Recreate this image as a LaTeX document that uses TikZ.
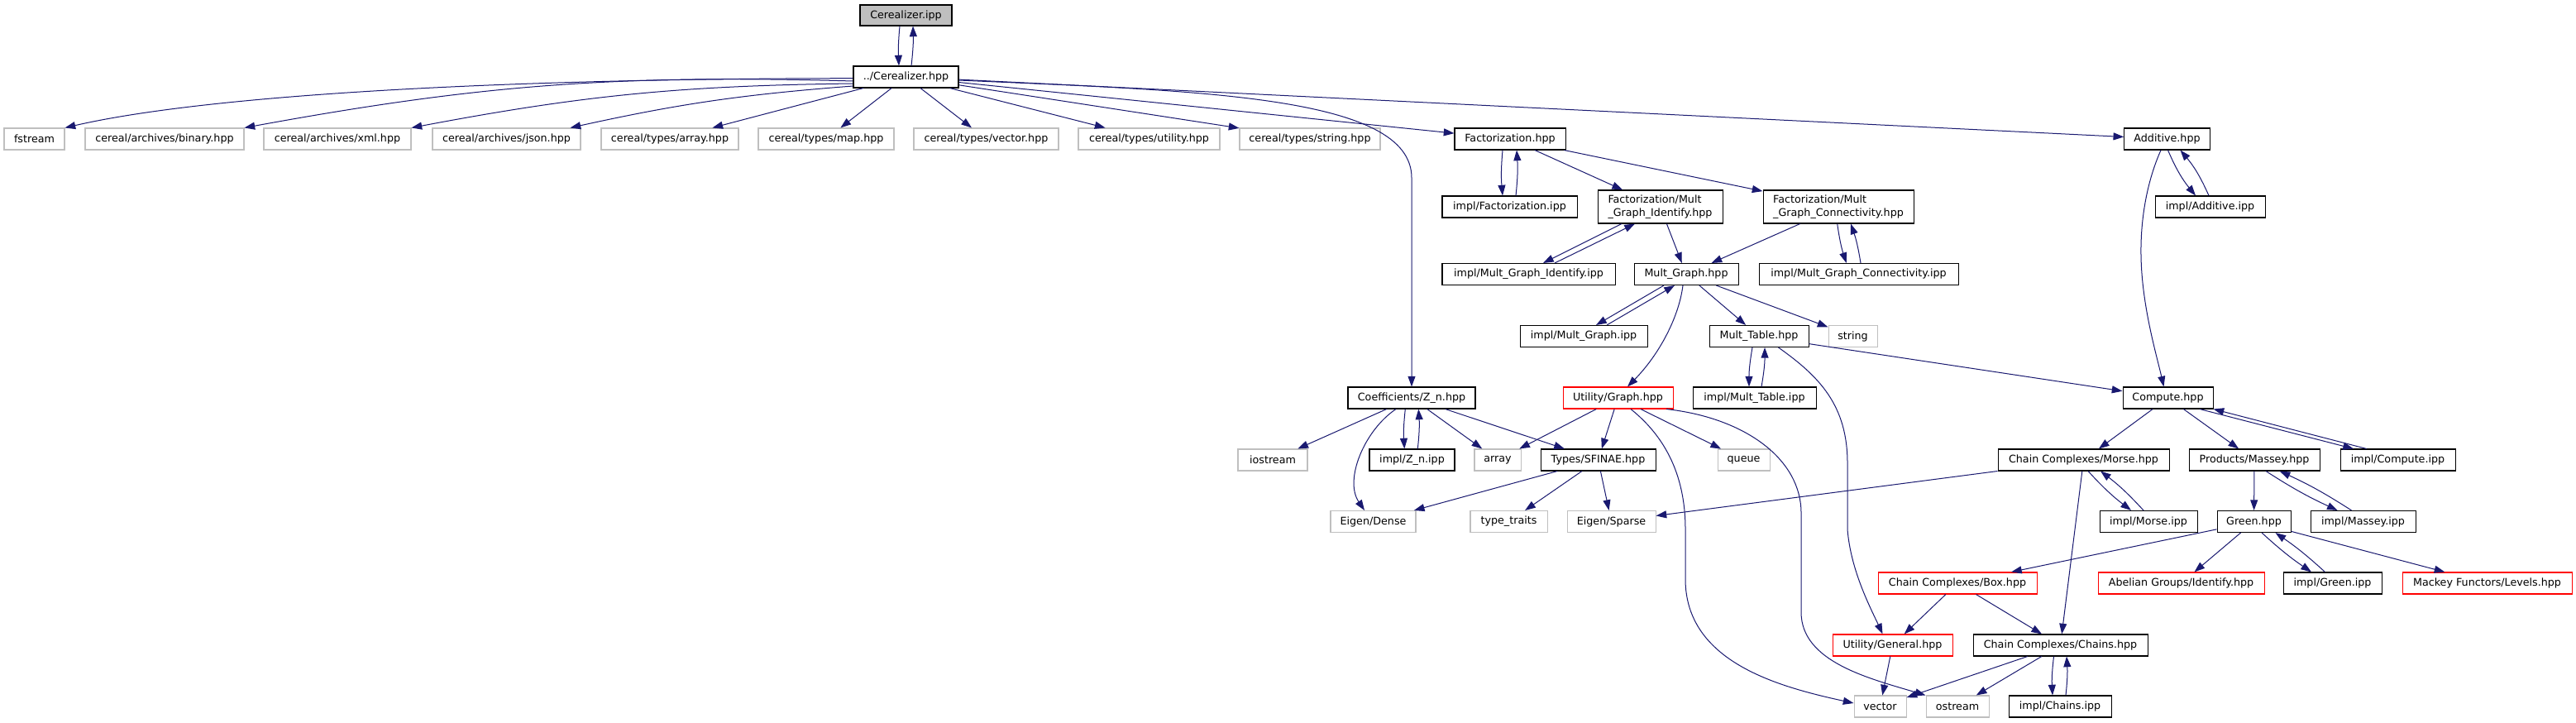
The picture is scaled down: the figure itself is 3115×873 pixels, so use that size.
\documentclass[tikz,border=0pt]{standalone}
\usepackage{fontspec}
\setmainfont{DejaVu Sans}
\usetikzlibrary{arrows.meta}
\definecolor{edgecol}{HTML}{191970}
\definecolor{extgray}{HTML}{BFBFBF}
\definecolor{missred}{HTML}{FF0000}
\tikzset{
  nd/.style={draw=black, fill=white, line width=1.05pt, inner sep=0pt, minimum height=26pt, anchor=center, font=\fontsize{12.7}{15.7}\selectfont},
  ext/.style={nd, draw=extgray},
  miss/.style={nd, draw=missred},
  rootnd/.style={nd, fill=extgray},
  two/.style={nd, minimum height=40pt, align=left},
  e/.style={draw=edgecol, line width=1pt, -{Triangle[length=12.7pt,width=9pt]}, fill=none},
}
\begin{document}
\begin{tikzpicture}[x=1pt,y=-1pt]
\fill[white] (0,0) rectangle (3115,873);
\useasboundingbox (0,0) rectangle (3115,873);
% rank 0/1
\node[rootnd, minimum width=111pt, minimum height=25pt] (ipp) at (1095.5,18.5) {Cerealizer.ipp};
\node[nd, minimum width=127pt] (hpp) at (1095.5,93) {../Cerealizer.hpp};
% rank 2
\node[ext, minimum width=73pt]  (fstr)   at (41.5,168) {fstream};
\node[ext, minimum width=192pt] (binary) at (199,168) {cereal/archives/binary.hpp};
\node[ext, minimum width=178pt] (xml)    at (408,168) {cereal/archives/xml.hpp};
\node[ext, minimum width=179pt] (json)   at (612.5,168) {cereal/archives/json.hpp};
\node[ext, minimum width=166pt] (arrh)   at (810,168) {cereal/types/array.hpp};
\node[ext, minimum width=164pt] (maph)   at (999,168) {cereal/types/map.hpp};
\node[ext, minimum width=175pt] (vech)   at (1192.5,168) {cereal/types/vector.hpp};
\node[ext, minimum width=171pt] (utilh)  at (1389.5,168) {cereal/types/utility.hpp};
\node[ext, minimum width=170pt] (strh)   at (1584,168) {cereal/types/string.hpp};
\node[nd, minimum width=134pt]  (fact)   at (1826,168) {Factorization.hpp};
\node[nd, minimum width=103.5pt] (addh)  at (2620.5,168) {Additive.hpp};
% rank 3
\node[nd, minimum width=163pt] (factipp) at (1825.5,250) {impl/Factorization.ipp};
\node[two, minimum width=151pt] (mgih) at (2007.5,250) {Factorization/Mult\\\_Graph\_Identify.hpp};
\node[two, minimum width=182pt] (mgch) at (2223,250) {Factorization/Mult\\\_Graph\_Connectivity.hpp};
\node[nd, minimum width=133pt] (addipp) at (2672.5,250) {impl/Additive.ipp};
% rank 4
\node[nd, minimum width=209pt] (mgiipp) at (1848.5,331.5) {impl/Mult\_Graph\_Identify.ipp};
\node[nd, minimum width=126pt] (mgh)    at (2039,331.5) {Mult\_Graph.hpp};
\node[nd, minimum width=241pt] (mgcipp) at (2247.5,331.5) {impl/Mult\_Graph\_Connectivity.ipp};
% rank 5
\node[nd, minimum width=154pt] (mgipp)  at (1915,406.5) {impl/Mult\_Graph.ipp};
\node[nd, minimum width=120pt] (mth)    at (2127,406.5) {Mult\_Table.hpp};
\node[ext, minimum width=59pt] (string) at (2240.5,406.5) {string};
% rank 6
\node[nd, minimum width=154pt]  (zn)    at (1707,481) {Coefficients/Z\_n.hpp};
\node[miss, minimum width=133pt] (graph) at (1956.5,481) {Utility/Graph.hpp};
\node[nd, minimum width=149pt]  (mtipp) at (2121.5,481) {impl/Mult\_Table.ipp};
\node[nd, minimum width=109pt]  (comph) at (2621.5,481) {Compute.hpp};
% rank 7
\node[ext, minimum width=84pt]  (iostream) at (1539,556) {iostream};
\node[nd, minimum width=103pt]  (znipp)  at (1707.5,556) {impl/Z\_n.ipp};
\node[ext, minimum width=56pt]  (arr)    at (1811,556) {array};
\node[nd, minimum width=139pt]  (sfinae) at (1932.5,556) {Types/SFINAE.hpp};
\node[ext, minimum width=63pt]  (queue)  at (2108.5,556) {queue};
\node[nd, minimum width=207pt]  (morse)  at (2519.5,556) {Chain Complexes/Morse.hpp};
\node[nd, minimum width=158pt]  (massey) at (2726,556) {Products/Massey.hpp};
\node[nd, minimum width=139pt]  (compipp) at (2899.5,556) {impl/Compute.ipp};
% rank 8
\node[ext, minimum width=103pt] (dense)  at (1660.5,630.5) {Eigen/Dense};
\node[ext, minimum width=93pt]  (tt)     at (1824.5,630.5) {type\_traits};
\node[ext, minimum width=107pt] (sparse) at (1948.5,630.5) {Eigen/Sparse};
\node[nd, minimum width=118pt]  (morseipp) at (2598,630.5) {impl/Morse.ipp};
\node[nd, minimum width=89pt]   (green)  at (2725.5,630.5) {Green.hpp};
\node[nd, minimum width=127pt]  (masseyipp) at (2857.5,630.5) {impl/Massey.ipp};
% rank 9
\node[miss, minimum width=192pt] (box)     at (2367,705) {Chain Complexes/Box.hpp};
\node[miss, minimum width=201pt] (abelian) at (2637.5,705) {Abelian Groups/Identify.hpp};
\node[nd, minimum width=119pt]   (greenipp) at (2820.5,705) {impl/Green.ipp};
\node[miss, minimum width=205pt] (mackey)  at (3007.5,705) {Mackey Functors/Levels.hpp};
% rank 10
\node[miss, minimum width=145pt] (general) at (2288.5,780) {Utility/General.hpp};
\node[nd, minimum width=211pt]   (chains)  at (2491.5,780) {Chain Complexes/Chains.hpp};
% rank 11
\node[ext, minimum width=63pt]  (vector)  at (2273.5,854) {vector};
\node[ext, minimum width=76pt]  (ostream) at (2367,854) {ostream};
\node[nd, minimum width=124pt]  (chainsipp) at (2491,854) {impl/Chains.ipp};

% ---- edges ----
\draw[e] ([xshift=-7.5pt]ipp.south) to[bend right=4] ([xshift=-8.5pt]hpp.north);
\draw[e] ([xshift=6.5pt]hpp.north) to[bend right=4] ([xshift=8.5pt]ipp.south);

\draw[e] ([yshift=-1.7pt]hpp.west) .. controls (600,95) and (250,115) .. (fstr.north east);
\draw[e] ([yshift=-5pt]hpp.west) to[bend right=6] (binary.north east);
\draw[e] ([yshift=-8pt]hpp.west) to[bend right=5] (xml.north east);
\draw[e] ([yshift=-11pt]hpp.west) to[bend right=4] ([xshift=-13pt]json.north east);
\draw[e] (hpp) -- (arrh);
\draw[e] (hpp) -- (maph);
\draw[e] (hpp) -- (vech);
\draw[e] (hpp) -- (utilh);
\draw[e] (hpp) -- (strh);
\draw[e] (hpp) -- (fact);
\draw[e] (hpp) -- (addh);
\draw[e] ([yshift=-4pt]hpp.east) .. controls (1450,110) and (1707,115) .. (1707,215) -- (zn.north);

\draw[e] ([xshift=-9pt]fact.south) to[bend right=5] ([xshift=-8.5pt]factipp.north);
\draw[e] ([xshift=7.5pt]factipp.north) to[bend right=5] ([xshift=8pt]fact.south);
\draw[e] (fact) -- (mgih);
\draw[e] (fact) -- (mgch);

\draw[e] ([xshift=-46.5pt]mgih.south) -- ([xshift=17.5pt]mgiipp.north);
\draw[e] ([xshift=31.5pt]mgiipp.north) -- ([xshift=-30.5pt]mgih.south);
\draw[e] (mgih) -- (mgh);
\draw[e] (mgch) -- (mgh);
\draw[e] ([xshift=-1.3pt]mgch.south) to[bend right=5] ([xshift=-14.8pt]mgcipp.north);
\draw[e] ([xshift=2.5pt]mgcipp.north) to[bend right=5] ([xshift=15pt]mgch.south);

\draw[e] ([xshift=-27pt]mgh.south) -- ([xshift=15pt]mgipp.north);
\draw[e] ([xshift=28pt]mgipp.north) -- ([xshift=-14pt]mgh.south);
\draw[e] (mgh) -- (mth);
\draw[e] (mgh) -- (string);
\draw[e] ([xshift=-4pt]mgh.south) .. controls (2030,385) and (2005,430) .. ([xshift=11.5pt]graph.north);

\draw[e] ([xshift=-8pt]mth.south) to[bend right=5] ([xshift=-6.5pt]mtipp.north);
\draw[e] ([xshift=8.5pt]mtipp.north) to[bend right=5] ([xshift=7pt]mth.south);
\draw[e] (mth) -- (comph);
\draw[e] ([xshift=23.5pt]mth.south) .. controls (2200,455) and (2234,490) .. (2234,560) -- (2234,640) .. controls (2238,690) and (2262,735) .. ([xshift=-12pt]general.north);

\draw[e] ([xshift=1pt]addh.south) to[bend right=8] ([xshift=-17.5pt]addipp.north);
\draw[e] ([xshift=-1.5pt]addipp.north) to[bend right=8] ([xshift=16pt]addh.south);
\draw[e] ([xshift=-7.5pt]addh.south) .. controls (2598,215) and (2588,260) .. (2589,310) .. controls (2590,370) and (2608,430) .. ([xshift=-5pt]comph.north);

\draw[e] (zn) -- (iostream);
\draw[e] ([xshift=-19pt]zn.south) .. controls (1650,520) and (1625,580) .. ([xshift=-10.5pt]dense.north);
\draw[e] ([xshift=-7.7pt]zn.south) to[bend right=5] ([xshift=-9.2pt]znipp.north);
\draw[e] ([xshift=6.8pt]znipp.north) to[bend right=5] ([xshift=8.3pt]zn.south);
\draw[e] (zn) -- (arr);
\draw[e] (zn) -- (sfinae);

\draw[e] (graph) -- (arr);
\draw[e] (graph) -- (sfinae);
\draw[e] (graph) -- (queue);
\draw[e] ([xshift=15.5pt]graph.south) .. controls (2010,525) and (2038,570) .. (2038,640) -- (2038,700) .. controls (2038,800) and (2150,830) .. ([yshift=4pt]vector.west);
\draw[e] ([xshift=58.5pt]graph.south) .. controls (2110,505) and (2178,555) .. (2178,620) -- (2178,740) .. controls (2178,800) and (2260,820) .. (ostream.north west);

\draw[e] (sfinae) -- (dense);
\draw[e] (sfinae) -- (tt);
\draw[e] (sfinae) -- (sparse);

\draw[e] (comph) -- (morse);
\draw[e] (comph) -- (massey);
\draw[e] ([xshift=38.5pt]comph.south) -- ([xshift=-53.5pt]compipp.north);
\draw[e] ([xshift=-37.8pt]compipp.north) -- (comph.south east);

\draw[e] (morse) -- (sparse);
\draw[e] ([xshift=5.5pt]morse.south) to[bend right=5] ([xshift=-21pt]morseipp.north);
\draw[e] ([xshift=-6pt]morseipp.north) to[bend right=5] ([xshift=20.5pt]morse.south);
\draw[e] (morse) -- (chains);

\draw[e] (massey) -- (green);
\draw[e] ([xshift=14pt]massey.south) to[bend right=4] ([xshift=-30.8pt]masseyipp.north);
\draw[e] ([xshift=-14pt]masseyipp.north) to[bend right=4] ([xshift=30.7pt]massey.south);

\draw[e] (green) -- (box);
\draw[e] (green) -- (abelian);
\draw[e] ([xshift=9.5pt]green.south) to[bend right=4] ([xshift=-25.5pt]greenipp.north);
\draw[e] ([xshift=-9pt]greenipp.north) to[bend right=4] ([xshift=26pt]green.south);
\draw[e] (green) -- (mackey);

\draw[e] (box) -- (general);
\draw[e] (box) -- (chains);
\draw[e] (general) -- (vector);
\draw[e] (chains) -- (vector);
\draw[e] (chains) -- (ostream);
\draw[e] ([xshift=-8pt]chains.south) to[bend right=5] ([xshift=-9pt]chainsipp.north);
\draw[e] ([xshift=7pt]chainsipp.north) to[bend right=5] ([xshift=7.5pt]chains.south);
\end{tikzpicture}
\end{document}
